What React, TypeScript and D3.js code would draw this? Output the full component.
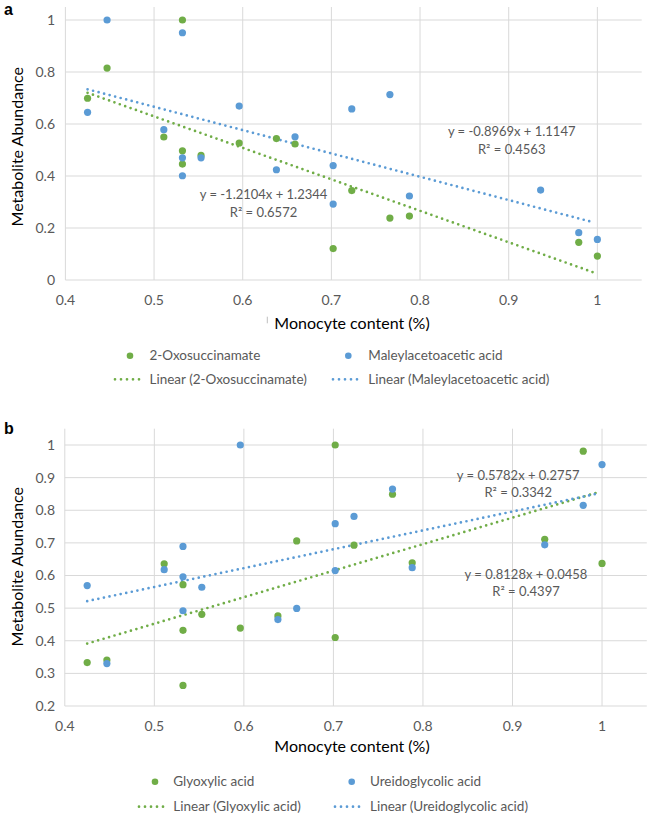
import * as d3 from "d3";

// shared x values (monocyte content) for the 18 samples
const MONOCYTE: number[] = [
  0.425, 0.447, 0.511, 0.532, 0.532, 0.532, 0.553, 0.596, 0.638, 0.659, 0.702,
  0.702, 0.723, 0.766, 0.788, 0.936, 0.979, 1.0,
];

// panel a
const OXOSUCCINAMATE: (number | null)[] = [
  0.699, 0.815, 0.55, 1.0, 0.497, 0.446, 0.479, 0.527, 0.544, 0.523, 0.121,
  null, 0.344, 0.238, 0.246, null, 0.145, 0.092,
];
const MALEYLACETOACETIC: (number | null)[] = [
  0.645, 1.0, 0.578, 0.951, 0.47, 0.401, 0.47, 0.669, 0.424, 0.551, 0.44, 0.292,
  0.658, 0.713, 0.323, 0.346, 0.182, 0.156,
];

// panel b
const GLYOXYLIC: (number | null)[] = [
  0.333, 0.341, 0.636, 0.572, 0.432, 0.263, 0.481, 0.439, 0.476, 0.706, 1.0,
  0.41, 0.693, 0.849, 0.639, 0.711, 0.981, 0.637,
];
const UREIDOGLYCOLIC: (number | null)[] = [
  0.569, 0.33, 0.618, 0.689, 0.596, 0.492, 0.564, 1.0, 0.465, 0.499, 0.759,
  0.615, 0.781, 0.865, 0.624, 0.694, 0.815, 0.94,
];

const NAMES_A = ["2-Oxosuccinamate", "Maleylacetoacetic acid"];
const NAMES_B = ["Glyoxylic acid", "Ureidoglycolic acid"];

// trendline fits [slope, intercept, R²], as printed on the chart
const FIT_A = [
  [-1.2104, 1.2344, 0.6572],
  [-0.8969, 1.1147, 0.4563],
];
const FIT_B = [
  [0.8128, 0.0458, 0.4397],
  [0.5782, 0.2757, 0.3342],
];

const X_TICKS = [0.4, 0.5, 0.6, 0.7, 0.8, 0.9, 1];
const Y_TICKS_A = [0, 0.2, 0.4, 0.6, 0.8, 1];
const Y_TICKS_B = [0.2, 0.3, 0.4, 0.5, 0.6, 0.7, 0.8, 0.9, 1];

const GREEN = "#70ad47";
const BLUE = "#5b9bd5";
const GRID = "#d9d9d9";
const LABEL = "#595959";
const FONT = "Lato, 'Open Sans', sans-serif";

type PanelProps = {
  tag: string;
  series: (number | null)[][];
  names: string[];
  fits: number[][];
  yTicks: number[];
  yDomain: [number, number];
  xRange: [number, number];
  yRange: [number, number];
  top: number;
  eqPos: [number, number][];
  legend: { dotX: number[]; lineX: [number, number][]; textX: number[]; rows: number[] };
  titleY: number;
  yTitleY: number;
};

const fmt = (v: number) => (v < 0 ? "-" : "") + Math.abs(v).toFixed(4);

const Panel = (p: PanelProps) => {
  const x = d3.scaleLinear().domain([0.4, 1.05]).range(p.xRange);
  const y = d3.scaleLinear().domain(p.yDomain).range(p.yRange);
  const colors = [GREEN, BLUE];
  const [x0, x1] = p.xRange;
  const [yb, yt] = p.yRange;
  const xMin = d3.min(MONOCYTE) as number;
  const xMax = (d3.max(MONOCYTE) as number) - 0.004;
  const tick = d3.format("~g");

  return (
    <g>
      <text x={4} y={p.top} fontFamily="Liberation Sans, Arial" fontWeight="bold" fontSize={16}>
        {p.tag}
      </text>

      {/* grid */}
      {p.yTicks.map((t) => (
        <line key={"h" + t} x1={x0} x2={x1} y1={y(t)} y2={y(t)} stroke={GRID} />
      ))}
      {X_TICKS.map((t) => (
        <line key={"v" + t} x1={x(t)} x2={x(t)} y1={yt} y2={yb} stroke={GRID} />
      ))}

      {/* tick labels */}
      {p.yTicks.map((t) => (
        <text key={"yl" + t} x={55} y={y(t)} dy="0.35em" textAnchor="end" fontSize={14} fill={LABEL} fontFamily={FONT}>
          {tick(t)}
        </text>
      ))}
      {X_TICKS.map((t) => (
        <text key={"xl" + t} x={x(t)} y={yb + 20} dy="0.35em" textAnchor="middle" fontSize={14} fill={LABEL} fontFamily={FONT}>
          {tick(t)}
        </text>
      ))}

      {/* trendlines */}
      {p.fits.map((f, i) => (
        <line
          key={"tl" + i}
          x1={x(xMin)}
          y1={y(f[0] * xMin + f[1])}
          x2={x(xMax)}
          y2={y(f[0] * xMax + f[1])}
          stroke={colors[i]}
          strokeWidth={2.7}
          strokeLinecap="round"
          strokeDasharray="0 5.7"
        />
      ))}

      {/* points */}
      {p.series.map((s, i) =>
        s.map((v, k) =>
          v === null ? null : (
            <circle key={`p${i}-${k}`} cx={x(MONOCYTE[k])} cy={y(v)} r={3.6} fill={colors[i]} />
          )
        )
      )}

      {/* equations */}
      {p.fits.map((f, i) => (
        <g key={"eq" + i} fontSize={13} fill={LABEL} fontFamily={FONT} textAnchor="middle">
          <text x={p.eqPos[i][0]} y={p.eqPos[i][1]} dy="0.35em">
            {`y = ${fmt(f[0])}x + ${fmt(f[1])}`}
          </text>
          <text x={p.eqPos[i][0]} y={p.eqPos[i][1] + 17.5} dy="0.35em">
            {`R² = ${f[2].toFixed(4)}`}
          </text>
        </g>
      ))}

      {/* axis titles */}
      <text x={352} y={p.titleY} dy="0.35em" textAnchor="middle" fontSize={16} fontFamily={FONT} fill="#000">
        Monocyte content (%)
      </text>
      <text
        transform={`translate(17,${p.yTitleY}) rotate(-90)`}
        dy="0.35em"
        textAnchor="middle"
        fontSize={16}
        fontFamily={FONT}
        fill="#000"
      >
        Metabolite Abundance
      </text>

      {/* legend */}
      {p.names.map((n, i) => (
        <g key={"lg" + i} fontSize={13.5} fill={LABEL} fontFamily={FONT}>
          <circle cx={p.legend.dotX[i]} cy={p.legend.rows[0]} r={3.3} fill={colors[i]} />
          <text x={p.legend.textX[i]} y={p.legend.rows[0]} dy="0.35em">
            {n}
          </text>
          <line
            x1={p.legend.lineX[i][0]}
            x2={p.legend.lineX[i][1]}
            y1={p.legend.rows[1]}
            y2={p.legend.rows[1]}
            stroke={colors[i]}
            strokeWidth={2.7}
            strokeLinecap="round"
            strokeDasharray="0 6"
          />
          <text x={p.legend.textX[i]} y={p.legend.rows[1]} dy="0.35em">
            {`Linear (${n})`}
          </text>
        </g>
      ))}
    </g>
  );
};

export default function App() {
  return (
    <svg width={649} height={820} style={{ position: "absolute", left: 0, top: 0, background: "#fff" }}>
      <rect width={649} height={820} fill="#fff" />
      <Panel
        tag="a"
        series={[OXOSUCCINAMATE, MALEYLACETOACETIC]}
        names={NAMES_A}
        fits={FIT_A}
        yTicks={Y_TICKS_A}
        yDomain={[0, 1.05]}
        xRange={[65.4, 641.7]}
        yRange={[280, 7]}
        top={15}
        eqPos={[
          [263.5, 194.5],
          [511.7, 131.7],
        ]}
        legend={{
          dotX: [130, 348.3],
          lineX: [
            [115, 145],
            [333, 363],
          ],
          textX: [149.5, 368.3],
          rows: [355.7, 379.3],
        }}
        titleY={323.3}
        yTitleY={146.7}
      />
      <line x1={267.3} x2={267.3} y1={316.7} y2={323.3} stroke="#bfbfbf" />
      <Panel
        tag="b"
        series={[GLYOXYLIC, UREIDOGLYCOLIC]}
        names={NAMES_B}
        fits={FIT_B}
        yTicks={Y_TICKS_B}
        yDomain={[0.2, 1.05]}
        xRange={[64.8, 646.8]}
        yRange={[706, 428.7]}
        top={434}
        eqPos={[
          [526, 574.3],
          [518.2, 475],
        ]}
        legend={{
          dotX: [155, 351.7],
          lineX: [
            [139, 168],
            [335, 365],
          ],
          textX: [173.3, 370],
          rows: [781.7, 806.7],
        }}
        titleY={746.5}
        yTitleY={566.7}
      />
    </svg>
  );
}
